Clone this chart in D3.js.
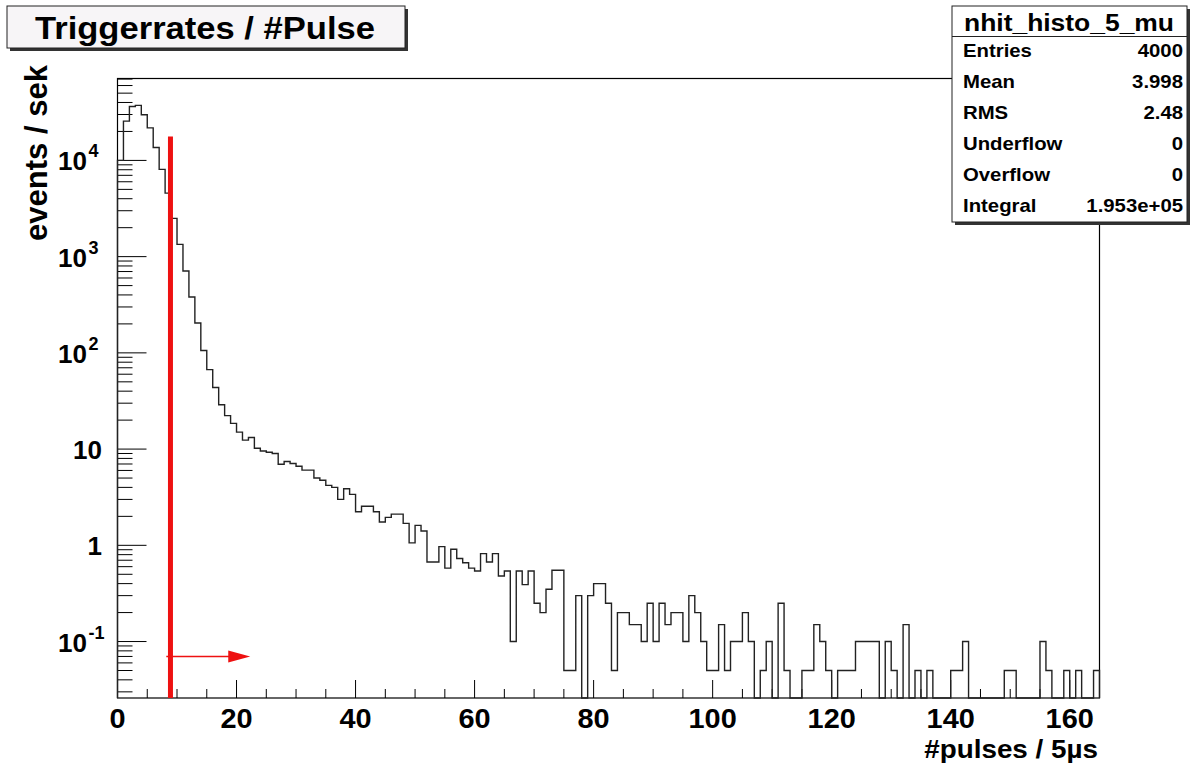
<!DOCTYPE html>
<html>
<head>
<meta charset="utf-8">
<script src="https://cdn.jsdelivr.net/npm/d3@7"></script>
<style>
  body { margin: 0; background: #fff; }
  svg { display: block; }
  text { font-family: "Liberation Sans", Arial, sans-serif; font-weight: bold; fill: #000; }
</style>
</head>
<body>
<div id="my_dataviz"></div>
<script>
// bin contents (events / sek), one bin per pulse, bins 0..164
var rates = [
  10000, 25600, 36300, 37300, 29800, 21800, 13600, 8070, 4570, 2500,
  1340, 709, 381, 204, 106, 67, 43.7, 28.9, 22.3, 18.5,
  15.0, 12.4, 13.2, 10.2, 9.57, 9.27, 9.0, 6.97, 7.43, 7.08,
  6.64, 6.04, 6.04, 5.0, 4.75, 4.2, 4.0, 3.0, 3.87, 3.38,
  2.23, 2.55, 2.55, 2.23, 1.75, 1.95, 2.11, 2.11, 1.69, 1.06,
  1.61, 1.41, 0.67, 0.67, 0.97, 0.58, 0.91, 0.73, 0.66, 0.58,
  0.54, 0.82, 0.67, 0.82, 0.48, 0.54, 0.1, 0.54, 0.39, 0.54,
  0.25, 0.2, 0.35, 0.55, 0.55, 0.05, 0.05, 0.3, 0, 0.3,
  0.4, 0.4, 0.25, 0.05, 0.2, 0.2, 0.15, 0.15, 0.1, 0.25,
  0.1, 0.25, 0.15, 0.2, 0.2, 0.1, 0.3, 0.2, 0.1, 0.05,
  0.05, 0.15, 0.05, 0.1, 0.1, 0.2, 0.1, 0, 0.05, 0.1,
  0, 0.25, 0.05, 0, 0, 0.05, 0.05, 0.15, 0.1, 0.05,
  0, 0.05, 0.05, 0.05, 0.1, 0.1, 0.1, 0.1, 0, 0.1,
  0.05, 0, 0.15, 0, 0.05, 0, 0.05, 0, 0, 0,
  0.05, 0.05, 0.1, 0, 0, 0, 0, 0, 0, 0.05,
  0.05, 0, 0, 0, 0, 0.1, 0.05, 0, 0, 0.05,
  0, 0.05, 0, 0, 0.05
];
var xTickLabels = [0, 20, 40, 60, 80, 100, 120, 140, 160];
var yTickLabels = [0.1, 1, 10, 100, 1000, 10000];
var statsNames = ["Entries", "Mean", "RMS", "Underflow", "Overflow", "Integral"];
var statsValues = ["4000", "3.998", "2.48", "0", "0", "1.953e+05"];
var cutLine = [8.9, 17700];       // red cut: x position, top value
var cutArrow = [8.2, 22.3, 0.07]; // arrow: from x, to x, at value

var W = 1199, H = 767;
var frame = {left: 117.5, right: 1099.5, top: 78.5, bottom: 698};

var svg = d3.select("#my_dataviz")
  .append("svg")
    .attr("width", W)
    .attr("height", H);

var x = d3.scaleLinear().domain([0, 165]).range([frame.left, frame.right]);
var y = d3.scaleLog().domain([0.0259, 71000]).range([frame.bottom, frame.top]);
var floorV = y.domain()[0];

// frame
svg.append("rect")
  .attr("x", frame.left).attr("y", frame.top)
  .attr("width", frame.right - frame.left).attr("height", frame.bottom - frame.top)
  .attr("fill", "none").attr("stroke", "#000").attr("stroke-width", 1.2);

// y ticks: majors each decade, minors 2..9
var minorY = [];
for (var k = -2; k <= 4; k++) {
  for (var m = 2; m <= 9; m++) {
    var v = m * Math.pow(10, k);
    if (v > floorV && v < y.domain()[1]) minorY.push(v);
  }
}
svg.append("g").selectAll("line").data(minorY).enter().append("line")
  .attr("x1", frame.left).attr("x2", frame.left + 15)
  .attr("y1", function(d) { return y(d); }).attr("y2", function(d) { return y(d); })
  .attr("stroke", "#000").attr("stroke-width", 1);
svg.append("g").selectAll("line").data(yTickLabels).enter().append("line")
  .attr("x1", frame.left).attr("x2", frame.left + 29)
  .attr("y1", function(d) { return y(d); }).attr("y2", function(d) { return y(d); })
  .attr("stroke", "#000").attr("stroke-width", 1);

// y labels (10^n style)
var yl = svg.append("g");
yTickLabels.forEach(function(d) {
  var e = Math.round(Math.log10(d));
  var ty = y(d);
  if (e === 0 || e === 1) {
    yl.append("text").attr("x", 102).attr("y", ty + 10)
      .attr("text-anchor", "end").attr("font-size", 26).text(String(d));
  } else {
    yl.append("text").attr("x", 87).attr("y", ty + 10)
      .attr("text-anchor", "end").attr("font-size", 26).text("10");
    yl.append("text").attr("x", 88.5).attr("y", ty - 3)
      .attr("font-size", 18).text(String(e));
  }
});

// x ticks: every 5, majors every 20
svg.append("g").selectAll("line").data(d3.range(0, 166, 5)).enter().append("line")
  .attr("x1", function(d) { return x(d); }).attr("x2", function(d) { return x(d); })
  .attr("y1", frame.bottom)
  .attr("y2", function(d) { return d % 20 === 0 ? frame.bottom - 18 : frame.bottom - 9; })
  .attr("stroke", "#000").attr("stroke-width", 1);

svg.append("g").selectAll("text").data(xTickLabels).enter().append("text")
  .attr("class", "wide")
  .attr("x", function(d) { return x(d); }).attr("y", 728)
  .attr("text-anchor", "middle").attr("font-size", 27)
  .text(function(d) { return d; });

// histogram outline
var pts = [[0, floorV]];
rates.forEach(function(v, i) { pts.push([i, Math.max(v, floorV)]); });
pts.push([165, floorV]);
var line = d3.line()
  .x(function(d) { return x(d[0]); })
  .y(function(d) { return y(d[1]); })
  .curve(d3.curveStepAfter);
svg.append("path")
  .datum(pts)
  .attr("d", line)
  .attr("fill", "none")
  .attr("stroke", "#222")
  .attr("stroke-width", 1.4);

// red cut line and arrow
svg.append("line")
  .attr("x1", x(cutLine[0])).attr("x2", x(cutLine[0]))
  .attr("y1", y(cutLine[1])).attr("y2", frame.bottom)
  .attr("stroke", "#ee1111").attr("stroke-width", 5);
var ay = y(cutArrow[2]);
svg.append("line")
  .attr("x1", x(cutArrow[0])).attr("x2", x(cutArrow[1]) - 18)
  .attr("y1", ay).attr("y2", ay)
  .attr("stroke", "#ee1111").attr("stroke-width", 1.5);
svg.append("path")
  .attr("d", "M" + x(cutArrow[1]) + "," + ay + "L" + (x(cutArrow[1]) - 22) + "," + (ay - 6) +
             "L" + (x(cutArrow[1]) - 22) + "," + (ay + 6) + "Z")
  .attr("fill", "#ee1111");

// axis titles
svg.append("text")
  .attr("class", "wide")
  .attr("x", 1098).attr("y", 758)
  .attr("text-anchor", "end").attr("font-size", 26)
  .text("#pulses / 5\u00b5s");
svg.append("text")
  .attr("transform", "translate(47,153) rotate(-90)")
  .attr("text-anchor", "middle").attr("font-size", 31)
  .text("events / sek");

// title box
svg.append("rect").attr("x", 10).attr("y", 9).attr("width", 398).attr("height", 42).attr("fill", "#333");
svg.append("rect").attr("x", 7).attr("y", 6).attr("width", 398).attr("height", 42)
  .attr("fill", "#f7f5f7").attr("stroke", "#222").attr("stroke-width", 1);
svg.append("text")
  .attr("x", 35).attr("y", 39).attr("font-size", 31)
  .attr("textLength", 340).attr("lengthAdjust", "spacingAndGlyphs")
  .text("Triggerrates / #Pulse");

// stats box
svg.append("rect").attr("x", 955).attr("y", 9).attr("width", 235).attr("height", 216).attr("fill", "#333");
svg.append("rect").attr("x", 952).attr("y", 6).attr("width", 235).attr("height", 216)
  .attr("fill", "#fff").attr("stroke", "#222").attr("stroke-width", 1);
svg.append("line").attr("x1", 952).attr("x2", 1187).attr("y1", 36.5).attr("y2", 36.5)
  .attr("stroke", "#222").attr("stroke-width", 1);
svg.append("text")
  .attr("x", 1069).attr("y", 31).attr("text-anchor", "middle").attr("font-size", 23)
  .attr("textLength", 210).attr("lengthAdjust", "spacingAndGlyphs")
  .text("nhit_histo_5_mu");
var rows = svg.append("g");
statsNames.forEach(function(name, i) {
  var by = 57 + i * 31;
  rows.append("text").attr("class", "wide")
    .attr("x", 963).attr("y", by).attr("font-size", 19).text(name);
  rows.append("text").attr("class", "wide")
    .attr("x", 1183).attr("y", by).attr("text-anchor", "end").attr("font-size", 19)
    .text(statsValues[i]);
});

// the reference canvas looks stretched horizontally; widen those texts
svg.selectAll("text.wide").each(function() {
  var len = this.getComputedTextLength();
  d3.select(this).attr("textLength", len * 1.07).attr("lengthAdjust", "spacingAndGlyphs");
});
</script>
</body>
</html>
